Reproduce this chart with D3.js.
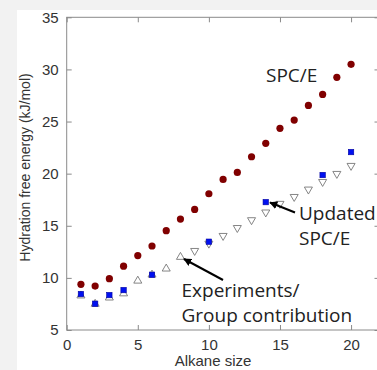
<!DOCTYPE html>
<html><head><meta charset="utf-8">
<script src="https://cdn.jsdelivr.net/npm/d3@7"></script>
<style>html,body{margin:0;padding:0;background:#f2f2f2;}svg{display:block;}</style>
</head><body>
<svg id="c" width="377" height="370"></svg>
<script>
// Data
const spceN = [1,2,3,4,5,6,7,8,9,10,11,12,13,14,15,16,17,18,19,20];
const spceG = [9.38,9.21,9.92,11.12,12.14,13.06,14.53,15.64,16.57,18.07,19.45,20.12,21.62,22.91,24.35,25.14,26.55,27.6,29.24,30.49];
const updN = [1,2,3,4,6,10,14,18,20];
const updG = [8.45,7.52,8.35,8.83,10.3,13.47,17.27,19.87,22.07];
const expN = [1,2,3,4,5,6,7,8];
const expG = [8.3,7.5,8.1,8.5,9.72,10.3,10.88,12.0];
const grpN = [9,10,11,12,13,14,15,16,17,18,19,20];
const grpG = [12.6,13.3,14.04,14.8,15.55,16.29,17.12,17.78,18.49,19.22,19.99,20.76];
const xTicks = [0,5,10,15,20];
const yTicks = [5,10,15,20,25,30,35];

const svg = d3.select("#c");
svg.append("rect").attr("x",17).attr("y",10).attr("width",360).attr("height",360).attr("fill","#fff");

const x = d3.scaleLinear([0,22],[66.7,379.5]);
const y = d3.scaleLinear([5,35],[330,17.3]);
const axisCol = "#8a8a8a";
const tickFont = "Liberation Sans, Arial, sans-serif";

function styleAxis(g){
  g.select(".domain").remove();
  g.selectAll(".tick line").attr("stroke",axisCol);
  g.selectAll(".tick text").attr("fill","#333").style("font-family",tickFont).style("font-size","15px");
}
svg.append("g").attr("transform",`translate(0,${y(5)})`)
  .call(d3.axisBottom(x).tickValues(xTicks).tickSizeInner(-5).tickSizeOuter(0).tickPadding(9)).call(styleAxis);
svg.append("g").attr("transform",`translate(0,${y(35)})`)
  .call(d3.axisTop(x).tickValues(xTicks).tickSizeInner(-5).tickSizeOuter(0).tickFormat("")).call(styleAxis);
svg.append("g").attr("transform",`translate(${x(0)},0)`)
  .call(d3.axisLeft(y).tickValues(yTicks).tickSizeInner(-5).tickSizeOuter(0).tickPadding(8)).call(styleAxis);
svg.append("g").attr("transform",`translate(${x(22)},0)`)
  .call(d3.axisRight(y).tickValues(yTicks).tickSizeInner(-5).tickSizeOuter(0).tickFormat("")).call(styleAxis);
svg.append("rect").attr("x",x(0)).attr("y",y(35)).attr("width",x(22)-x(0)).attr("height",y(5)-y(35))
  .attr("fill","none").attr("stroke",axisCol).attr("stroke-width",1);

// axis titles
svg.append("text").attr("transform",`translate(30,167.5) rotate(-90)`)
  .attr("text-anchor","middle").style("font-family",tickFont).style("font-size","14px").attr("fill","#333")
  .text("Hydration free energy (kJ/mol)");
svg.append("text").attr("x",213).attr("y",366).attr("text-anchor","middle")
  .style("font-family",tickFont).style("font-size","15px").attr("fill","#333").text("Alkane size");

// triangles
const triUp = d3.symbol().type(d3.symbolTriangle).size(28);
svg.append("g").selectAll("path").data(expN).join("path")
  .attr("d",triUp).attr("transform",(d,i)=>`translate(${x(d)},${y(expG[i])})`)
  .attr("fill","#fff").attr("stroke","#777").attr("stroke-width",0.9);
svg.append("g").selectAll("path").data(grpN).join("path")
  .attr("d",triUp).attr("transform",(d,i)=>`translate(${x(d)},${y(grpG[i])}) rotate(180)`)
  .attr("fill","#fff").attr("stroke","#777").attr("stroke-width",0.9);

// updated SPC/E squares
svg.append("g").selectAll("rect").data(updN).join("rect")
  .attr("x",d=>x(d)-2.7).attr("y",(d,i)=>y(updG[i])-2.7).attr("width",5.4).attr("height",5.4)
  .attr("fill","#0010f0").attr("stroke","#0000a0").attr("stroke-width",0.6);

// SPC/E circles
svg.append("g").selectAll("circle").data(spceN).join("circle")
  .attr("cx",d=>x(d)).attr("cy",(d,i)=>y(spceG[i])).attr("r",3.6).attr("fill","#800000");

// arrows
const defs = svg.append("defs");
defs.append("marker").attr("id","ah").attr("viewBox","0 0 10 10").attr("refX",9).attr("refY",5)
  .attr("markerWidth",4).attr("markerHeight",4).attr("orient","auto")
  .append("path").attr("d","M0,0 L10,5 L0,10 Z").attr("fill","#000");
svg.append("line").attr("x1",223).attr("y1",280).attr("x2",184).attr("y2",259)
  .attr("stroke","#000").attr("stroke-width",2).attr("marker-end","url(#ah)");
svg.append("line").attr("x1",295).attr("y1",212.5).attr("x2",270).attr("y2",202.5)
  .attr("stroke","#000").attr("stroke-width",2).attr("marker-end","url(#ah)");

// annotations
const annFont = "Open Sans, sans-serif";
function ann(t,xx,yy,fs){
  svg.append("text").attr("x",xx).attr("y",yy).style("font-family",annFont).style("font-size",fs+"px")
    .attr("fill","#222").text(t);
}
ann("SPC/E",266,81.7,19);
ann("Updated",299,220,19);
ann("SPC/E",299,245,19);
ann("Experiments/",181.5,297.3,19);
ann("Group contribution",181.5,321.5,19);
</script>
</body></html>
